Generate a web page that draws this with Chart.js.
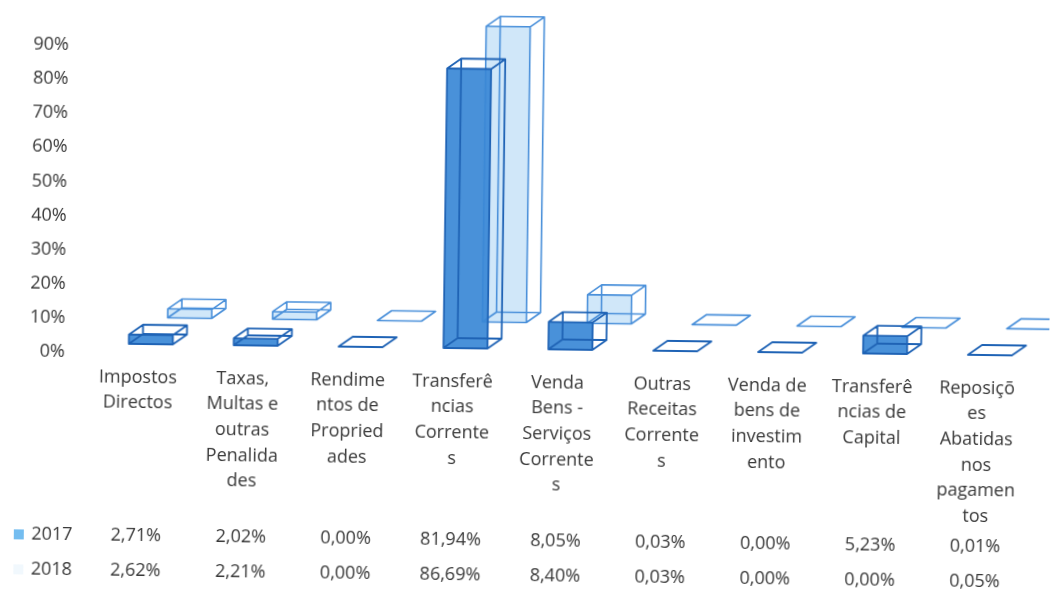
<!DOCTYPE html>
<html>
<head>
<meta charset="utf-8">
<script src="https://cdn.jsdelivr.net/npm/chart.js@4/dist/chart.umd.min.js"></script>
<style>
  html, body { margin: 0; padding: 0; background: #fff; overflow: hidden; }
  #wrap { position: relative; width: 1050px; height: 589px; transform: rotate(0.75deg); transform-origin: 525px 294.5px; }
  #c { display: block; width: 1050px; height: 589px; }
</style>
</head>
<body>
<div id="wrap"><canvas id="c" width="1050" height="589"></canvas></div>
<script>
// ---- data ----
const categories = [
  ["Impostos", "Directos"],
  ["Taxas,", "Multas e", "outras", "Penalida", "des"],
  ["Rendime", "ntos de", "Propried", "ades"],
  ["Transferê", "ncias", "Corrente", "s"],
  ["Venda", "Bens -", "Serviços", "Corrente", "s"],
  ["Outras", "Receitas", "Corrente", "s"],
  ["Venda de", "bens de", "investim", "ento"],
  ["Transferê", "ncias de", "Capital"],
  ["Reposiçõ", "es", "Abatidas", "nos", "pagamen", "tos"]
];
const seriesNames = ["2017", "2018"];
const values2017 = [2.71, 2.02, 0.00, 81.94, 8.05, 0.03, 0.00, 5.23, 0.01];
const values2018 = [2.62, 2.21, 0.00, 86.69, 8.40, 0.03, 0.00, 0.00, 0.05];
const yTickValues = [0, 10, 20, 30, 40, 50, 60, 70, 80, 90];

// ---- style ----
const TEXT = '#383838';
const FONT = '"Open Sans", "Noto Sans", sans-serif';
const DX = 14, DY = -10;               // 3D depth of each box
const LABEL_SHIFT = -31.75;            // category labels sit left of the bar pair
const fmt = v => v.toFixed(2).replace('.', ',') + '%';

const box3d = {
  id: 'box3d',
  afterDatasetDraw(chart, args, opts) {
    const ctx = chart.ctx;
    const i = args.index;
    ctx.save();
    ctx.strokeStyle = opts.edges[i];
    ctx.lineWidth = opts.widths[i];
    ctx.lineJoin = 'round';
    args.meta.data.forEach(el => {
      const p = el.getProps(['x', 'y', 'base', 'width'], true);
      const x0 = p.x - p.width / 2, x1 = p.x + p.width / 2;
      const yt = Math.min(p.y, p.base), yb = Math.max(p.y, p.base);
      ctx.beginPath();
      ctx.rect(x0 + DX, yt + DY, x1 - x0, yb - yt);
      [[x0, yt], [x1, yt], [x0, yb], [x1, yb]].forEach(([px, py]) => {
        ctx.moveTo(px, py); ctx.lineTo(px + DX, py + DY);
      });
      ctx.rect(x0, yt, x1 - x0, yb - yt);
      ctx.stroke();
    });
    ctx.restore();
  }
};

const dataTable = {
  id: 'dataTable',
  afterDraw(chart, args, opts) {
    const ctx = chart.ctx, xs = chart.scales.x;
    ctx.save();
    ctx.font = '18px ' + FONT;
    ctx.textAlign = 'center';
    ctx.textBaseline = 'middle';
    chart.data.datasets.forEach((ds, di) => {
      const yRow = chart.chartArea.bottom + opts.rowOffsets[di];
      ctx.fillStyle = opts.keyColors[di];
      ctx.fillRect(opts.keyX - 5, yRow - 5, 10, 10);
      ctx.fillStyle = TEXT;
      ctx.fillText(ds.label, opts.headerX, yRow);
      ds.data.forEach((v, i) => {
        ctx.fillText(fmt(v), xs.getPixelForValue(i) + LABEL_SHIFT, yRow);
      });
    });
    ctx.restore();
  }
};

new Chart(document.getElementById('c'), {
  type: 'bar',
  data: {
    labels: categories,
    datasets: [
      { label: seriesNames[0], data: values2017, yAxisID: 'yF',
        backgroundColor: 'rgba(58,136,214,0.92)', borderWidth: 0, clip: false },
      { label: seriesNames[1], data: values2018, yAxisID: 'yB',
        backgroundColor: 'rgba(205,230,249,0.95)', borderWidth: 0, clip: false }
    ]
  },
  options: {
    responsive: false,
    maintainAspectRatio: false,
    devicePixelRatio: 1,
    animation: false,
    layout: { padding: { top: 51, right: 40.05, bottom: 0, left: 0 } },
    categoryPercentage: 0.734,
    barPercentage: 1.143,
    plugins: {
      legend: { display: false },
      tooltip: { enabled: false },
      box3d: { edges: ['#1f63b5', '#4a90da'], widths: [1.8, 1.6] },
      dataTable: { rowOffsets: [183, 218], keyColors: ['#74bdf0', '#f1f8fd'], keyX: 22, headerX: 55 }
    },
    scales: {
      x: {
        type: 'category',
        offset: false,
        grid: { display: false, offset: false },
        border: { display: false },
        ticks: {
          autoSkip: false, maxRotation: 0, minRotation: 0,
          labelOffset: LABEL_SHIFT, padding: 4, color: TEXT,
          font: { family: FONT, size: 18, lineHeight: 1.42 }
        },
        afterFit(s) { s.height = 231; s.paddingLeft = 0; s.paddingRight = 0; }
      },
      y: {
        position: 'left',
        min: yTickValues[0],
        max: yTickValues[yTickValues.length - 1],
        grid: { display: false },
        border: { display: false },
        afterBuildTicks(s) { s.ticks = yTickValues.map(v => ({ value: v })); },
        ticks: {
          padding: 97, color: TEXT,
          font: { family: FONT, size: 18 },
          callback: v => v + '%'
        },
        afterFit(s) { s.width = 170.75; s.paddingTop = 0; s.paddingBottom = 0; }
      },
      yF: { display: false, min: -2.64, max: 87.36 },
      yB: { display: false, min: -10.41, max: 79.59 }
    }
  },
  plugins: [box3d, dataTable]
});
</script>
</body>
</html>
